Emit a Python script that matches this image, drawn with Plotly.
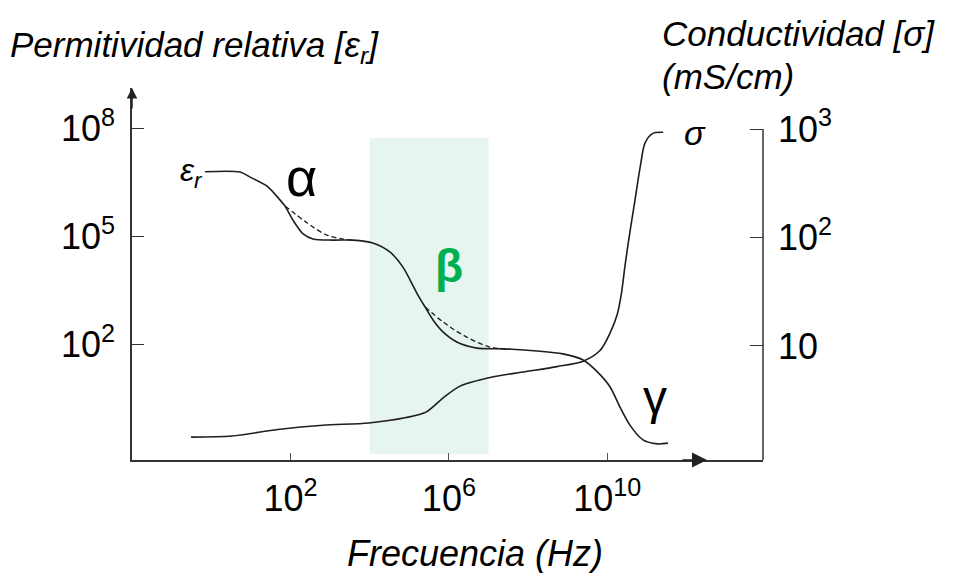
import numpy as np
import plotly.graph_objects as go

# ---- data (log10 of frequency in Hz, log10 of values) ----
eps_logf = [-0.16, 0.73, 0.98, 1.41, 1.74, 1.86, 2.06, 2.32, 2.57, 3.07, 3.58, 4.08, 4.51, 4.84,
            5.19, 5.40, 5.60, 5.85, 6.20, 6.71, 7.37, 8.23, 8.88, 9.39, 9.73, 10.07, 10.32,
            10.57, 10.90, 11.26, 11.53]
eps_logv = [6.80, 6.79, 6.65, 6.40, 6.01, 5.85, 5.46, 5.07, 4.93, 4.90, 4.90, 4.82, 4.57, 4.15,
            3.43, 3.04, 2.68, 2.35, 2.07, 1.90, 1.88, 1.82, 1.74, 1.57, 1.26, 0.82, 0.26,
            -0.24, -0.65, -0.76, -0.74]

alpha_dash_logf = [1.86, 2.42, 2.92, 3.33, 3.58]
alpha_dash_logv = [5.85, 5.38, 5.04, 4.93, 4.90]

beta_dash_logf = [5.40, 5.85, 6.36, 7.04, 7.54]
beta_dash_logv = [3.04, 2.63, 2.26, 1.93, 1.88]

sigma_logf = [-0.51, 0.52, 1.68, 2.82, 3.98, 4.92, 5.42, 5.85, 6.28, 7.04, 7.87, 8.73, 9.39,
              9.82, 10.07, 10.25, 10.35, 10.45, 10.57, 10.70, 10.83, 10.95, 11.15, 11.41]
sigma_logv = [0.16, 0.17, 0.23, 0.27, 0.29, 0.34, 0.39, 0.52, 0.63, 0.71, 0.76, 0.81, 0.86,
              0.96, 1.12, 1.29, 1.47, 1.75, 2.05, 2.35, 2.65, 2.87, 2.96, 2.97]

x_tickvals = [1e2, 1e6, 1e10]
x_ticktext = ["10<sup>2</sup>", "10<sup>6</sup>", "10<sup>10</sup>"]
y_tickvals = [1e2, 1e5, 1e8]
y_ticktext = ["10<sup>2</sup>", "10<sup>5</sup>", "10<sup>8</sup>"]
y2_tickvals = [10, 100, 1000]
y2_ticktext = ["10", "10<sup>2</sup>", "10<sup>3</sup>"]
beta_band = [1e4, 1e7]

FONT = "Liberation Sans, Arial, sans-serif"
LINE = "#1e1e1e"

# plot area in pixels
L, R, T, B = 132, 763, 88, 460
W, H = 955, 573


def px(x):
    return (x - L) / (R - L)


def py(y):
    return (B - y) / (B - T)


def p10(a):
    return np.power(10.0, np.array(a))


fig = go.Figure()
fig.add_trace(go.Scatter(x=p10(eps_logf), y=p10(eps_logv), mode="lines",
                         line=dict(color=LINE, width=1.6, shape="spline", smoothing=0.8),
                         showlegend=False, hoverinfo="skip"))
fig.add_trace(go.Scatter(x=p10(alpha_dash_logf), y=p10(alpha_dash_logv), mode="lines",
                         line=dict(color=LINE, width=1.3, dash="5px,3px", shape="spline"),
                         showlegend=False, hoverinfo="skip"))
fig.add_trace(go.Scatter(x=p10(beta_dash_logf), y=p10(beta_dash_logv), mode="lines",
                         line=dict(color=LINE, width=1.3, dash="5px,3px", shape="spline"),
                         showlegend=False, hoverinfo="skip"))
fig.add_trace(go.Scatter(x=p10(sigma_logf), y=p10(sigma_logv), mode="lines", yaxis="y2",
                         line=dict(color=LINE, width=1.6, shape="spline", smoothing=0.8),
                         showlegend=False, hoverinfo="skip"))

shapes = [
    dict(type="rect", xref="x", yref="paper", x0=beta_band[0], x1=beta_band[1],
         y0=py(454), y1=py(138), fillcolor="#E6F5EE", line=dict(width=0), layer="below"),
    dict(type="line", xref="paper", yref="paper", x0=1, x1=1, y0=0, y1=py(129),
         line=dict(color="#333333", width=1.5)),
]

annotations = [
    # axis arrows
    dict(xref="paper", yref="paper", x=0, y=1, ax=0, ay=22, showarrow=True, arrowhead=2,
         arrowsize=1.4, arrowwidth=1.5, arrowcolor="#222", text=""),
    dict(xref="paper", yref="paper", x=px(707), y=0, ax=-26, ay=0, showarrow=True, arrowhead=2,
         arrowsize=2.0, arrowwidth=1.5, arrowcolor="#222", text=""),
    # titles
    dict(xref="paper", yref="paper", x=px(8), y=py(47), xanchor="left", yanchor="middle",
         showarrow=False, text="<i>Permitividad relativa [ε<sub>r</sub>]</i>",
         font=dict(size=35, color="black", family=FONT)),
    dict(xref="paper", yref="paper", x=px(660), y=py(34), xanchor="left", yanchor="middle",
         showarrow=False, text="<i>Conductividad [σ]</i>",
         font=dict(size=35, color="black", family=FONT)),
    dict(xref="paper", yref="paper", x=px(660), y=py(76), xanchor="left", yanchor="middle",
         showarrow=False, text="<i>(mS/cm)</i>",
         font=dict(size=35, color="black", family=FONT)),
    dict(xref="paper", yref="paper", x=px(475), y=py(553), xanchor="center", yanchor="middle",
         showarrow=False, text="<i>Frecuencia (Hz)</i>",
         font=dict(size=36, color="black", family=FONT)),
    # curve labels
    dict(xref="paper", yref="paper", x=px(178), y=py(150), showarrow=False,
         text="<i>ε<sub>r</sub></i>", font=dict(size=32, color="black", family=FONT)),
    dict(xref="paper", yref="paper", x=px(708), y=py(112), showarrow=False,
         text="<i>σ</i>", font=dict(size=34, color="black", family=FONT)),
    dict(xref="paper", yref="paper", x=px(284), y=py(145), showarrow=False,
         text="α", font=dict(size=54, color="black", family=FONT)),
    dict(xref="paper", yref="paper", x=px(449), y=py(266), showarrow=False,
         text="<b>β</b>", font=dict(size=46, color="#00B050", family=FONT)),
    dict(xref="paper", yref="paper", x=px(669), y=py(426), showarrow=False,
         text="γ", font=dict(size=48, color="black", family=FONT)),
]

tickfont = dict(size=36, color="black", family=FONT)

fig.update_layout(
    width=W, height=H,
    margin=dict(l=L, r=W - R, t=T, b=H - B, pad=0),
    paper_bgcolor="white", plot_bgcolor="white",
    showlegend=False,
    xaxis=dict(type="log", range=[-2.0, 13.93], showgrid=False, zeroline=False,
               showline=True, linecolor="#333333", linewidth=1.5,
               ticks="inside", ticklen=7, tickwidth=1, tickcolor="#555",
               tickvals=x_tickvals, ticktext=x_ticktext, tickfont=tickfont,
               ticklabelstandoff=6),
    yaxis=dict(type="log", range=[-1.208, 9.125], showgrid=False, zeroline=False,
               showline=True, linecolor="#333333", linewidth=1.5,
               ticks="inside", ticklen=12, tickwidth=1.2, tickcolor="#333",
               tickvals=y_tickvals, ticktext=y_ticktext, tickfont=tickfont,
               ticklabelstandoff=8),
    yaxis2=dict(type="log", range=[-0.051, 3.378], overlaying="y", side="right",
                showgrid=False, zeroline=False, showline=False,
                ticks="inside", ticklen=13, tickwidth=1.2, tickcolor="#333",
                tickvals=y2_tickvals, ticktext=y2_ticktext, tickfont=tickfont,
                ticklabelstandoff=14),
    shapes=shapes,
    annotations=annotations,
)

fig.write_html("out.html")
